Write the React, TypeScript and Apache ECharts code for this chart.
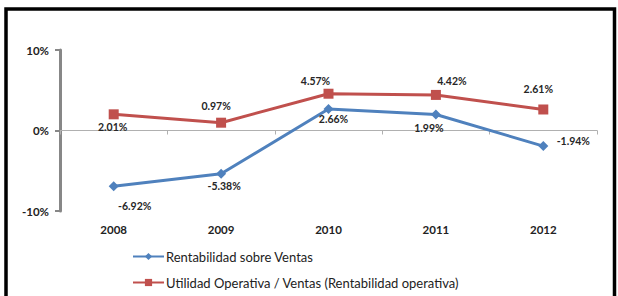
import React, { useEffect, useRef } from "react";
import * as echarts from "echarts";

// Years on the category axis
const years = ["2008", "2009", "2010", "2011", "2012"];

// Return on sales (%)
const rentabilidadVentas = [-6.92, -5.38, 2.66, 1.99, -1.94];

// Operating income / sales (%)
const utilidadOperativa = [2.01, 0.97, 4.57, 4.42, 2.61];

// Y axis range and step (%)
const yMin = -10;
const yMax = 10;
const yStep = 10;

const seriesNames = [
  "Rentabilidad sobre Ventas",
  "Utilidad Operativa / Ventas (Rentabilidad operativa)",
];

// Label offsets around each marker, [dx, dy] in px
const blueLabelOffsets = [
  [21, 20],
  [3, 12],
  [5, 10],
  [-7, 14],
  [30, -5],
];
const redLabelOffsets = [
  [-1, 13],
  [-5, -17],
  [-13, -13],
  [16, -14],
  [-5, -20],
];

const FONT = "Lato, 'Open Sans', sans-serif";
const BLUE = "#4F81BD";
const RED = "#C0504D";

const fmt = (v: number) => v.toFixed(2) + "%";

function buildData(values: number[], offsets: number[][]) {
  return values.map((v, i) => ({
    value: v,
    label: { offset: offsets[i] },
  }));
}

export default function App() {
  const ref = useRef<HTMLDivElement>(null);

  useEffect(() => {
    if (!ref.current) return;
    const chart = echarts.init(ref.current, null, { renderer: "svg" });

    const labelStyle = {
      show: true,
      position: "inside" as const,
      formatter: (p: any) => fmt(p.value),
      fontFamily: FONT,
      fontSize: 10.5,
      fontWeight: "bold" as const,
      color: "#262626",
    };

    chart.setOption({
      animation: false,
      backgroundColor: "#ffffff",
      textStyle: { fontFamily: FONT },
      grid: { left: 60, right: 21, top: 50, bottom: 85, containLabel: false },
      graphic: [
        {
          type: "rect",
          shape: { x: 6, y: 9, width: 608.5, height: 320 },
          style: { fill: "none", stroke: "#000000", lineWidth: 3.5 },
          silent: true,
          z: 100,
        },
      ],
      legend: {
        orient: "vertical",
        left: 132,
        top: 250,
        padding: 0,
        itemWidth: 31,
        itemHeight: 9,
        itemGap: 13,
        textStyle: { fontFamily: FONT, fontSize: 13, color: "#222222", padding: [0, 0, 0, -3] },
        data: seriesNames,
      },
      xAxis: [
        {
          type: "category",
          data: years,
          boundaryGap: true,
          axisLine: { onZero: true, lineStyle: { color: "#b0b0b0", width: 1 } },
          axisTick: { show: true, length: 4, lineStyle: { color: "#b0b0b0" } },
          axisLabel: { show: false },
          splitLine: { show: false },
        },
        {
          type: "category",
          data: years,
          position: "bottom",
          boundaryGap: true,
          axisLine: { show: false, onZero: false },
          axisTick: { show: false },
          axisLabel: {
            show: true,
            margin: 12,
            fontFamily: FONT,
            fontSize: 11.5,
            fontWeight: "bold",
            color: "#222222",
          },
          splitLine: { show: false },
        },
      ],
      yAxis: {
        type: "value",
        min: yMin,
        max: yMax,
        interval: yStep,
        axisLine: { show: true, lineStyle: { color: "#878787", width: 3 } },
        axisTick: { show: true, length: 5, lineStyle: { color: "#878787", width: 2 } },
        axisLabel: {
          margin: 11,
          fontFamily: FONT,
          fontSize: 11.5,
          fontWeight: "bold",
          color: "#222222",
          formatter: (v: number) => v + "%",
        },
        splitLine: { show: false },
      },
      series: [
        {
          name: seriesNames[0],
          type: "line",
          xAxisIndex: 0,
          data: buildData(rentabilidadVentas, blueLabelOffsets),
          symbol: "diamond",
          symbolSize: 10,
          lineStyle: { color: BLUE, width: 3 },
          itemStyle: { color: BLUE },
          label: labelStyle,
          z: 3,
        },
        {
          name: seriesNames[1],
          type: "line",
          xAxisIndex: 0,
          data: buildData(utilidadOperativa, redLabelOffsets),
          symbol: "rect",
          symbolSize: 10,
          lineStyle: { color: RED, width: 3 },
          itemStyle: { color: RED },
          label: labelStyle,
          z: 4,
        },
      ],
    });

    return () => chart.dispose();
  }, []);

  return (
    <div
      ref={ref}
      style={{ position: "fixed", left: 0, top: 0, width: 618, height: 296 }}
    />
  );
}
